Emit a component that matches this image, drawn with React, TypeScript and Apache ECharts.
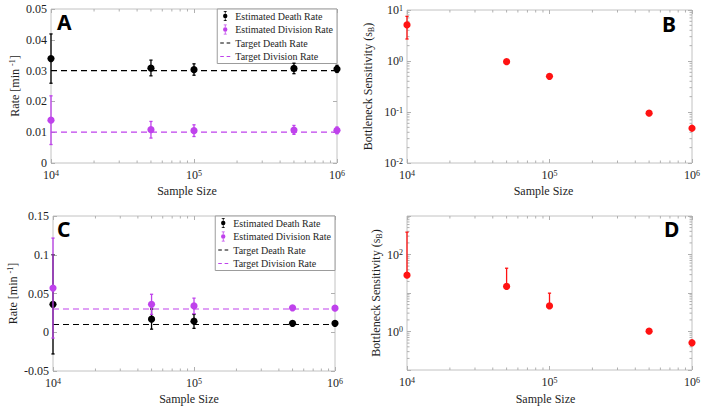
import React, { useEffect, useRef } from 'react';
import * as echarts from 'echarts';

// ---------- data ----------
const sampleSizes = [1e4, 5e4, 1e5, 5e5, 1e6];

// Panel A
const aDeath = [0.0339, 0.0308, 0.0303, 0.0307, 0.0305];
const aDeathLow = [0.0259, 0.0283, 0.0285, 0.029, 0.0294];
const aDeathHigh = [0.0419, 0.0334, 0.0322, 0.0324, 0.0317];
const aDiv = [0.0139, 0.0108, 0.0105, 0.0107, 0.0106];
const aDivLow = [0.006, 0.0081, 0.0086, 0.0093, 0.0095];
const aDivHigh = [0.0218, 0.0135, 0.0124, 0.0122, 0.0117];
const aTargetDeath = 0.03;
const aTargetDiv = 0.01;

// Panel B
const bSens = [5.1, 0.97, 0.5, 0.095, 0.048];
const bSensLow: (number | null)[] = [2.7, null, null, null, null];
const bSensHigh: (number | null)[] = [7.5, null, null, null, null];

// Panel C
const cDeath = [0.036, 0.0168, 0.0142, 0.0115, 0.0115];
const cDeathLow = [-0.028, 0.004, 0.005, 0.0105, 0.0108];
const cDeathHigh = [0.1, 0.03, 0.023, 0.0125, 0.0122];
const cDiv = [0.057, 0.036, 0.034, 0.0315, 0.031];
const cDivLow = [-0.0075, 0.023, 0.024, 0.0305, 0.0303];
const cDivHigh = [0.1215, 0.049, 0.044, 0.0325, 0.0317];
const cTargetDeath = 0.01;
const cTargetDiv = 0.03;

// Panel D
const dSens = [29, 14.8, 4.6, 1.02, 0.51];
const dSensLow: (number | null)[] = [null, null, null, null, null];
const dSensHigh: (number | null)[] = [380, 44, 9.9, null, null];

const legendNames = ['Estimated Death Rate', 'Estimated Division Rate', 'Target Death Rate', 'Target Division Rate'];
const panelLetters = ['A', 'B', 'C', 'D'];
const minorFactors = [2, 3, 4, 5, 6, 7, 8, 9];

// ---------- styles ----------
const SERIF = 'Liberation Serif';
const BOX = '#c2c2c2';
const TICK = '#b0b0b0';
const TEXT = '#1e1e1e';
const BLACK = '#000000';
const PURPLE = '#bf42ec';
const RED = '#ff1212';
const W = 708;

const grids = [
  { left: 51, top: 9, width: 286, height: 154 },
  { left: 407, top: 10, width: 285, height: 153 },
  { left: 53, top: 216, width: 282, height: 155 },
  { left: 407, top: 216, width: 285, height: 154 },
];

const baseTxt = { fontFamily: SERIF, fontSize: 12, fontWeight: 'normal', color: TEXT };
const richSet = {
  t: { ...baseTxt },
  sup: { fontFamily: SERIF, fontSize: 8, fontWeight: 'normal', color: TEXT, verticalAlign: 'top', lineHeight: 9 },
  sub: { fontFamily: SERIF, fontSize: 8, fontWeight: 'normal', color: TEXT, verticalAlign: 'bottom', lineHeight: 9 },
};
const logLabel = (v: number) => `{t|10}{sup|${Math.round(Math.log10(v))}}`;

const decadeMinor = (e0: number, e1: number) => {
  const r: number[] = [];
  for (let e = e0; e < e1; e++) for (const f of minorFactors) r.push(f * Math.pow(10, e));
  return r;
};

function xAxesFor(gi: number, nameGap: number, shift: number) {
  const base: any = {
    type: 'log', logBase: 10, min: 1e4, max: 1e6, gridIndex: gi,
    axisLine: { show: false, onZero: false },
    splitLine: { show: false },
    axisTick: { inside: true, length: 4, lineStyle: { color: TICK } },
  };
  return [
    {
      ...base, position: 'bottom',
      name: '{t|Sample Size}', nameLocation: 'middle', nameGap,
      nameTextStyle: { ...baseTxt, rich: richSet, padding: [0, shift * 2, 0, 0] },
      axisLabel: { formatter: logLabel, rich: richSet, ...baseTxt, margin: 6 },
    },
    { ...base, position: 'top', axisLabel: { show: false } },
  ];
}

function yAxesFor(gi: number, cfg: any, name: string, nameGap: number, labelFmt?: any) {
  const base: any = {
    gridIndex: gi,
    axisLine: { show: false, onZero: false },
    splitLine: { show: false },
    axisTick: { inside: true, length: 4, lineStyle: { color: TICK } },
    ...cfg,
  };
  return [
    {
      ...base, position: 'left',
      name, nameLocation: 'middle', nameGap,
      nameTextStyle: { ...baseTxt, rich: richSet, lineHeight: 14 },
      axisLabel: {
        ...baseTxt, margin: 4, rich: richSet,
        formatter: labelFmt ? labelFmt : (v: number) => `{t|${+v.toFixed(4)}}`,
      },
    },
    { ...base, position: 'right', axisLabel: { show: false } },
  ];
}

function errorSeries(name: string, gi: number, color: string, ys: number[], lows: (number | null)[], highs: (number | null)[], z: number) {
  return {
    type: 'custom', name, xAxisIndex: gi * 2, yAxisIndex: gi * 2, z,
    itemStyle: { color },
    encode: { x: 0, y: 1 },
    data: sampleSizes.map((s, i) => [s, ys[i], lows[i] ?? ys[i], highs[i] ?? ys[i]]),
    renderItem: (params: any, api: any) => {
      const x = api.value(0);
      const y = api.value(1);
      const lo = api.value(2);
      const hi = api.value(3);
      const c = api.coord([x, y]);
      const children: any[] = [];
      const ls = { stroke: color, lineWidth: 1.3 };
      const cap = 1.6;
      const seg = (v: number) => {
        const p = api.coord([x, v]);
        if (!isFinite(p[1]) || Math.abs(p[1] - c[1]) < 0.5) return;
        children.push({ type: 'line', shape: { x1: c[0], y1: c[1], x2: p[0], y2: p[1] }, style: ls });
        children.push({ type: 'line', shape: { x1: p[0] - cap, y1: p[1], x2: p[0] + cap, y2: p[1] }, style: ls });
      };
      seg(hi);
      seg(lo);
      children.push({ type: 'circle', shape: { cx: c[0], cy: c[1], r: 3.6 }, style: { fill: color } });
      return { type: 'group', children };
    },
  };
}

function targetSeries(name: string, gi: number, color: string, value: number) {
  return {
    type: 'line', name, xAxisIndex: gi * 2, yAxisIndex: gi * 2, z: 4,
    symbol: 'none', silent: true,
    itemStyle: { color },
    lineStyle: { color, width: 1.2, type: [6, 4] },
    data: [[sampleSizes[0], value], [sampleSizes[sampleSizes.length - 1], value]],
  };
}

function xMinorSeries(gi: number, yRef: number) {
  return {
    type: 'custom', silent: true, xAxisIndex: gi * 2, yAxisIndex: gi * 2, z: 1,
    encode: { x: 0, y: 1 },
    data: decadeMinor(4, 6).map((v) => [v, yRef]),
    renderItem: (params: any, api: any) => {
      const cs = params.coordSys;
      const px = api.coord([api.value(0), api.value(1)])[0];
      const st = { stroke: TICK, lineWidth: 1 };
      return {
        type: 'group', children: [
          { type: 'line', shape: { x1: px, y1: cs.y + cs.height, x2: px, y2: cs.y + cs.height - 2.5 }, style: st },
          { type: 'line', shape: { x1: px, y1: cs.y, x2: px, y2: cs.y + 2.5 }, style: st },
        ],
      };
    },
  };
}

function yMinorSeries(gi: number, e0: number, e1: number) {
  return {
    type: 'custom', silent: true, xAxisIndex: gi * 2, yAxisIndex: gi * 2, z: 1,
    encode: { x: 0, y: 1 },
    data: decadeMinor(e0, e1).map((v) => [1e5, v]),
    renderItem: (params: any, api: any) => {
      const cs = params.coordSys;
      const py = api.coord([api.value(0), api.value(1)])[1];
      const st = { stroke: TICK, lineWidth: 1 };
      return {
        type: 'group', children: [
          { type: 'line', shape: { x1: cs.x, y1: py, x2: cs.x + 2.5, y2: py }, style: st },
          { type: 'line', shape: { x1: cs.x + cs.width, y1: py, x2: cs.x + cs.width - 2.5, y2: py }, style: st },
        ],
      };
    },
  };
}

const errIcon = 'path://M1.5,0H4.5V0.7H1.5Z M2.6,0H3.4V2.9H2.6Z M0.8,5A2.2,2.2 0 1,0 5.2,5A2.2,2.2 0 1,0 0.8,5Z M2.6,7.1H3.4V10H2.6Z M1.5,9.3H4.5V10H1.5Z';
const dashIcon = 'path://M0,4.4H3.6V5.6H0Z M6.4,4.4H10V5.6H6.4Z';

function legendFor(top: number, plotRight: number) {
  return {
    show: true, orient: 'vertical', top, right: W - plotRight,
    itemWidth: 10, itemHeight: 10, itemGap: 3.5,
    padding: [2, 4, 2, 3],
    borderColor: '#9c9c9c', borderWidth: 1, backgroundColor: '#ffffff',
    selectedMode: false,
    textStyle: { fontFamily: SERIF, fontSize: 10, color: TEXT },
    data: [
      { name: legendNames[0], icon: errIcon },
      { name: legendNames[1], icon: errIcon },
      { name: legendNames[2], icon: dashIcon },
      { name: legendNames[3], icon: dashIcon },
    ],
  };
}

const dLabel = (v: number) => {
  const e = Math.round(Math.log10(v));
  return e === 0 || e === 2 ? `{t|10}{sup|${e}}` : '';
};

export default function App() {
  const ref = useRef<HTMLDivElement>(null);
  useEffect(() => {
    document.body.style.margin = '0';
    if (!ref.current) return;
    const chart = echarts.init(ref.current, undefined, { renderer: 'svg' });
    const option: any = {
      animation: false,
      backgroundColor: '#ffffff',
      textStyle: { fontFamily: SERIF },
      grid: grids.map((g) => ({ ...g, show: true, borderColor: BOX, borderWidth: 1, backgroundColor: 'transparent' })),
      xAxis: [...xAxesFor(0, 22, 7), ...xAxesFor(1, 22, 6), ...xAxesFor(2, 22, 5), ...xAxesFor(3, 23, 4)],
      yAxis: [
        ...yAxesFor(0, { type: 'value', min: 0, max: 0.05, interval: 0.01 }, '{t|Rate [min }{sup|-1}{t|]}', 27),
        ...yAxesFor(1, { type: 'log', logBase: 10, min: 0.01, max: 10 }, '{t|Bottleneck Sensitivity (s}{sub|B}{t|)}', 32, logLabel),
        ...yAxesFor(2, { type: 'value', min: -0.05, max: 0.15, interval: 0.05 }, '{t|Rate [min }{sup|-1}{t|]}', 29),
        ...yAxesFor(3, { type: 'log', logBase: 10, min: 0.1, max: 1000 }, '{t|Bottleneck Sensitivity (s}{sub|B}{t|)}', 23, dLabel),
      ],
      legend: [legendFor(9, 337), legendFor(216, 335)],
      series: [
        xMinorSeries(0, 0.01),
        xMinorSeries(1, 1),
        xMinorSeries(2, 0),
        xMinorSeries(3, 1),
        yMinorSeries(1, -2, 1),
        yMinorSeries(3, -1, 3),
        errorSeries(legendNames[0], 0, BLACK, aDeath, aDeathLow, aDeathHigh, 5),
        errorSeries(legendNames[1], 0, PURPLE, aDiv, aDivLow, aDivHigh, 6),
        targetSeries(legendNames[2], 0, BLACK, aTargetDeath),
        targetSeries(legendNames[3], 0, PURPLE, aTargetDiv),
        errorSeries('Bottleneck Sensitivity', 1, RED, bSens, bSensLow, bSensHigh, 5),
        errorSeries(legendNames[0], 2, BLACK, cDeath, cDeathLow, cDeathHigh, 5),
        errorSeries(legendNames[1], 2, PURPLE, cDiv, cDivLow, cDivHigh, 6),
        targetSeries(legendNames[2], 2, BLACK, cTargetDeath),
        targetSeries(legendNames[3], 2, PURPLE, cTargetDiv),
        errorSeries('Bottleneck Sensitivity', 3, RED, dSens, dSensLow, dSensHigh, 5),
      ],
      graphic: [
        { type: 'text', left: 57, top: 11, z: 100, style: { text: panelLetters[0], font: "bold 21px 'Noto Sans'", fill: '#000' } },
        { type: 'text', left: 662, top: 13, z: 100, style: { text: panelLetters[1], font: "bold 21px 'Noto Sans'", fill: '#000' } },
        { type: 'text', left: 57, top: 218, z: 100, style: { text: panelLetters[2], font: "bold 21px 'Noto Sans'", fill: '#000' } },
        { type: 'text', left: 664, top: 218, z: 100, style: { text: panelLetters[3], font: "bold 21px 'Noto Sans'", fill: '#000' } },
      ],
    };
    chart.setOption(option);
    return () => chart.dispose();
  }, []);
  return <div ref={ref} style={{ width: 708, height: 411 }} />;
}
